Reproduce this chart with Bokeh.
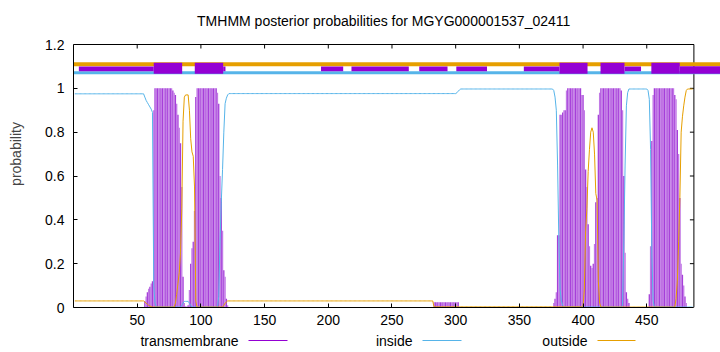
from bokeh.plotting import figure
from bokeh.layouts import column
from bokeh.models import Range1d, FixedTicker, ColumnDataSource
from bokeh.core.properties import value
from bokeh.embed import file_html
from bokeh.resources import INLINE

# ---------------- data ----------------
residues = list(range(1, 487))

transmembrane = (
    [0.0] * 55
    + [0.03, 0.05, 0.07, 0.085, 0.095, 0.11, 0.12, 0.9]
    + [1.0] * 14
    + [0.99, 0.98, 0.97, 0.93, 0.88, 0.82, 0.75, 0.55, 0.14, 0.02,
       0.005, 0.005, 0.01, 0.08, 0.2, 0.27, 0.3, 0.44, 0.96]
    + [1.0] * 16
    + [0.98, 0.93, 0.6, 0.5, 0.35, 0.17, 0.14, 0.04, 0.01]
    + [0.0] * 161
    + [0.024] * 20
    + [0.0] * 74
    + [0.02, 0.04, 0.07, 0.33, 0.33, 0.88, 0.88, 0.89, 0.9, 0.9, 0.99]
    + [1.0] * 11
    + [0.97, 0.97, 0.9, 0.63, 0.55, 0.38, 0.28, 0.19, 0.18, 0.2, 0.29,
       0.48, 0.5, 0.88, 0.98]
    + [1.0] * 16
    + [0.99, 0.9, 0.6, 0.25, 0.07, 0.04, 0.02]
    + [0.0] * 15
    + [0.06, 0.28, 0.76, 0.97]
    + [1.0] * 16
    + [0.97, 0.95, 0.81, 0.7, 0.5, 0.2, 0.15, 0.1, 0.05, 0.02]
    + [0.0] * 5
)

inside = (
    [0.975] * 55
    + [0.96, 0.945, 0.935, 0.925, 0.915, 0.905, 0.89, 0.1, 0.02]
    + [0.002] * 20
    + [0.01, 0.02, 0.028, 0.028, 0.028, 0.028, 0.02, 0.01]
    + [0.002] * 21
    + [0.05, 0.3, 0.48, 0.63, 0.8, 0.93, 0.955, 0.97]
    + [0.976] * 179
    + [0.98, 0.987, 0.993]
    + [0.997] * 73
    + [0.99, 0.96, 0.9, 0.65, 0.3, 0.08, 0.03, 0.01]
    + [0.002] * 46
    + [0.01, 0.3, 0.65, 0.92, 0.98]
    + [0.997] * 15
    + [0.99, 0.95, 0.72, 0.24, 0.03]
    + [0.002] * 31
)

outside = (
    [0.03] * 55
    + [0.025, 0.02, 0.015, 0.01, 0.007, 0.004, 0.002]
    + [0.002] * 17
    + [0.02, 0.06, 0.11, 0.16, 0.25, 0.45, 0.85, 0.96, 0.97, 0.97, 0.97,
       0.9, 0.77, 0.71, 0.69, 0.55, 0.03]
    + [0.002] * 21
    + [0.01, 0.02, 0.025]
    + [0.03] * 162
    + [0.003] * 117
    + [0.01, 0.08, 0.35, 0.45, 0.62, 0.72, 0.8, 0.82, 0.8, 0.7, 0.52, 0.49,
       0.12, 0.02]
    + [0.002] * 59
    + [0.04, 0.12, 0.3, 0.5, 0.8, 0.87, 0.92, 0.96, 0.99]
    + [0.997] * 5
)

x_ticks = [50, 100, 150, 200, 250, 300, 350, 400, 450]
y_ticks = [0, 0.2, 0.4, 0.6, 0.8, 1, 1.2]
y_tick_labels = ["0", "0.2", "0.4", "0.6", "0.8", "1", "1.2"]

# predicted topology strip above the curves (residue ranges)
strip_thin_start = [4.2, 117.5, 194.3, 218.2, 271.4, 300.5, 353.5, 432.5]
strip_thin_end = [63.0, 119.3, 211.7, 263.2, 293.6, 324.6, 381.5, 445.5]
helix_start = [63.0, 95.2, 381.5, 413.7, 453.6]
helix_end = [85.3, 117.5, 403.5, 432.5, 475.9]
tail_start = [475.9]
tail_end = [515.0]

title_text = "TMHMM posterior probabilities for MGYG000001537_02411"
legend_names = ["transmembrane", "inside", "outside"]

# ---------------- styling / layout ----------------
PURPLE = "#9400d3"
CYAN = "#56b4e9"
ORANGE = "#e69f00"
FONT = "Liberation Sans"
FS = "14px"

W = 720
MAIN_H, LEG_H = 333, 19
LEFT, BOTTOM = 73, 26
X_MAX = 487
Y_MAX = 1.2
ppu = 620.4 / X_MAX                      # px per residue
x_end = (W - LEFT) / ppu
ppu_y = 263.0 / Y_MAX                    # px per probability unit
frame_h = MAIN_H - BOTTOM                # frame spans from canvas top to y=0
y_end = frame_h / ppu_y


def yv(py):
    """vertical canvas pixel -> data value"""
    return (frame_h - py) / ppu_y


p = figure(width=W, height=MAIN_H, x_range=Range1d(0, x_end), y_range=Range1d(0, y_end),
           output_backend="svg", toolbar_location=None,
           min_border_left=LEFT, min_border_right=0, min_border_top=0,
           min_border_bottom=BOTTOM)
p.outline_line_color = None
p.grid.visible = False
p.background_fill_color = "white"
p.border_fill_color = "white"

# axes
xa = p.xaxis[0]
xa.ticker = FixedTicker(ticks=x_ticks)
xa.bounds = (0, X_MAX)
xa.major_tick_in = 4
xa.major_tick_out = 0
xa.minor_tick_line_color = None
xa.major_label_standoff = 7
xa.major_label_text_font = FONT
xa.major_label_text_font_size = FS
xa.major_label_text_color = "black"
xa.axis_line_color = "black"

ya = p.yaxis[0]
ya.ticker = FixedTicker(ticks=y_ticks)
ya.bounds = (0, Y_MAX)
ya.major_label_overrides = {t: s for t, s in zip(y_ticks, y_tick_labels)}
ya.major_tick_in = 4
ya.major_tick_out = 0
ya.minor_tick_line_color = None
ya.major_label_standoff = 9
ya.major_label_text_font = FONT
ya.major_label_text_font_size = FS
ya.major_label_text_color = "black"
ya.axis_label = "probability"
ya.axis_label_text_font = FONT
ya.axis_label_text_font_size = FS
ya.axis_label_text_font_style = "normal"
ya.axis_label_standoff = 18
ya.axis_line_color = "black"

# top and right border with inward ticks
tick_x = 4 / ppu
tick_y = 4 / ppu_y
p.segment(x0=[0, X_MAX], y0=[Y_MAX, 0], x1=[X_MAX, X_MAX], y1=[Y_MAX, Y_MAX],
          line_color="black", line_width=1)
p.segment(x0=x_ticks, y0=[Y_MAX] * len(x_ticks), x1=x_ticks,
          y1=[Y_MAX - tick_y] * len(x_ticks), line_color="black", line_width=1)
p.segment(x0=[X_MAX - tick_x] * len(y_ticks), y0=y_ticks,
          x1=[X_MAX] * len(y_ticks), y1=y_ticks, line_color="black", line_width=1)

# transmembrane impulses
dark, light = "#a63fd9", "#c27be6"
colors = [dark if r % 2 == 0 else light for r in residues]
src = ColumnDataSource(dict(x=residues, tm=transmembrane, c=colors))
p.vbar(x="x", top="tm", bottom=0, width=1.05, fill_color="c", line_color=None, source=src)

# inside / outside curves
p.line(residues, inside, line_color=CYAN, line_width=1)
p.line(residues, outside, line_color=ORANGE, line_width=1)

# topology strip
p.segment(x0=[0], y0=[yv(63.7)], x1=[tail_end[0]], y1=[yv(63.7)], line_color=ORANGE, line_width=4)
p.segment(x0=[0], y0=[yv(72.2)], x1=[tail_end[0]], y1=[yv(72.2)], line_color=CYAN, line_width=3)
p.quad(left=strip_thin_start, right=strip_thin_end, bottom=yv(70.7), top=yv(66.0),
       fill_color=PURPLE, line_color=None)
p.quad(left=helix_start, right=helix_end, bottom=yv(73.3), top=yv(62.3),
       fill_color=PURPLE, line_color=None)
p.quad(left=tail_start, right=tail_end, bottom=yv(73.3), top=yv(65.7),
       fill_color=PURPLE, line_color=None)

# title
p.text(x=[X_MAX / 2], y=[yv(20)], text=[title_text], text_align="center",
       text_baseline="middle", text_font=value(FONT), text_font_size=FS, text_color="black")

# ---------------- legend strip (text, then sample line) ----------------
# the column layout aligns this strip's frame with the main frame (x from LEFT to W),
# so its x range is given in canvas pixels over that span
lg = figure(width=W, height=LEG_H, x_range=Range1d(LEFT, W), y_range=Range1d(LEG_H, 0),
            output_backend="svg", toolbar_location=None,
            x_axis_location=None, y_axis_location=None, min_border=0,
            min_border_left=LEFT, min_border_right=0)
lg.outline_line_color = None
lg.grid.visible = False
lg.border_fill_color = "white"
legend_text_right_px = [238, 412, 587]
legend_line_start_px = [248, 422, 597]
legend_line_end_px = [287, 461, 635]
legend_colors = [PURPLE, CYAN, ORANGE]
leg_row = 340 - MAIN_H
lg.text(x=legend_text_right_px, y=[leg_row] * 3, text=legend_names, text_align="right",
        text_baseline="middle", text_font=value(FONT), text_font_size=FS, text_color="black")
lg.segment(x0=legend_line_start_px, y0=[leg_row] * 3, x1=legend_line_end_px,
           y1=[leg_row] * 3, line_color=legend_colors, line_width=1)

open("out.html", "w").write(file_html(column(p, lg, spacing=0), INLINE))
